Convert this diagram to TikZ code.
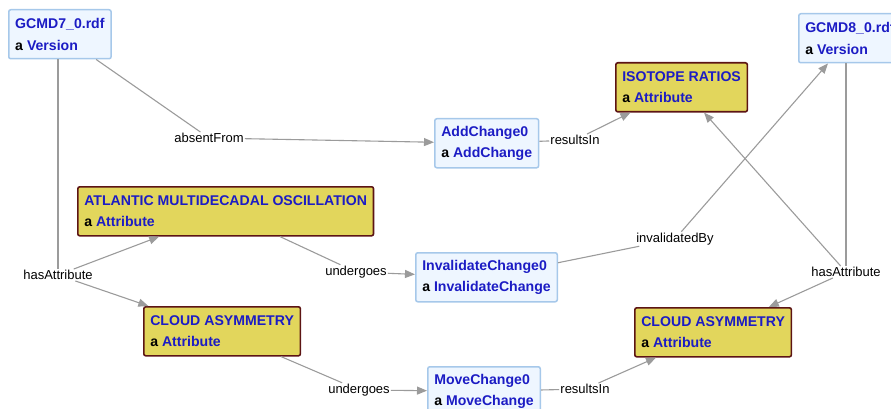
\documentclass[tikz,border=0pt]{standalone}
\usepackage{fontspec}
\setmainfont{Liberation Sans}
\usetikzlibrary{positioning, arrows.meta, calc}
\definecolor{rdfblue}{RGB}{28,28,196}
\definecolor{versfill}{RGB}{238,246,255}
\definecolor{versline}{RGB}{166,200,234}
\definecolor{attrfill}{RGB}{226,214,92}
\definecolor{attrline}{RGB}{92,20,20}
\definecolor{edgegray}{RGB}{155,155,155}
\newcommand{\rdftext}[2]{\textcolor{rdfblue}{#1}\\a \textcolor{rdfblue}{#2}}

\tikzset{
  resource/.style={draw=versline, fill=versfill, line width=1.5pt, rounded corners=2pt,
    anchor=north west, align=left, inner xsep=6.5pt, minimum height=49pt,
    font=\fontsize{14.1}{21.5}\selectfont\bfseries},
  attribute/.style={resource, draw=attrline, fill=attrfill, line width=1.6pt},
  prop/.style={inner sep=1pt, font=\fontsize{13}{15}\selectfont},
  link/.style={draw=edgegray, line width=1.1pt},
  arc/.style={link, -{Triangle[length=10pt,width=8pt]}},
}

\begin{document}
\begin{tikzpicture}[x=1pt, y=-1pt]
    \useasboundingbox (0,0) rectangle (891,409);
    \clip (0,0) rectangle (891,409);

    \node[resource] (v7) at (8,9) {\rdftext{GCMD7\_0.rdf}{Version}};
    \node[resource] (v8) at (798,13) {\rdftext{GCMD8\_0.rdf}{Version}};
    \node[resource] (add) at (434,118) {\rdftext{AddChange0}{AddChange}};
    \node[resource] (inv) at (415,252) {\rdftext{InvalidateChange0}{InvalidateChange}};
    \node[resource] (mov) at (427,366) {\rdftext{MoveChange0}{MoveChange}};
    \node[attribute] (iso) at (615,62) {\rdftext{ISOTOPE RATIOS}{Attribute}};
    \node[attribute] (amo) at (77,186) {\rdftext{ATLANTIC MULTIDECADAL OSCILLATION}{Attribute}};
    \node[attribute] (ca1) at (143,306) {\rdftext{CLOUD ASYMMETRY}{Attribute}};
    \node[attribute] (ca2) at (634,307) {\rdftext{CLOUD ASYMMETRY}{Attribute}};

    \node[prop] (absent) at (209,138) {absentFrom};
    \node[prop] (res1) at (575,140) {resultsIn};
    \node[prop] (has1) at (58,275) {hasAttribute};
    \node[prop] (und1) at (356,272) {undergoes};
    \node[prop] (invby) at (675,239) {invalidatedBy};
    \node[prop] (has2) at (846,272) {hasAttribute};
    \node[prop] (und2) at (359,390) {undergoes};
    \node[prop] (res2) at (585,389) {resultsIn};

    \draw
        (v7) edge[link] (absent)
        (absent) edge[arc] (add)
        (add) edge[link] (res1)
        (res1) edge[arc] (iso)
        (has1 |- v7.south) edge[link] (has1)
        (has1) edge[arc] (amo)
        (has1) edge[arc] (ca1)
        (amo) edge[link] (und1)
        (und1) edge[arc] (inv)
        (ca1) edge[link] (und2)
        (und2) edge[arc] (mov)
        (inv) edge[link] (invby)
        (invby) edge[arc] (v8)
        (has2 |- v8.south) edge[link] (has2)
        (has2) edge[arc] (iso)
        (has2) edge[arc] (ca2)
        (mov) edge[link] (res2)
        (res2) edge[arc] (ca2)
        ;
\end{tikzpicture}
\end{document}
